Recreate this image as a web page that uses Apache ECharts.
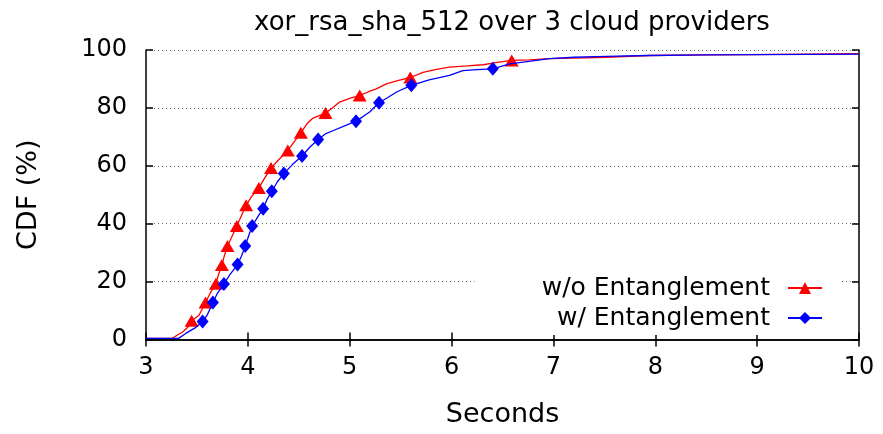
<!DOCTYPE html>
<html>
<head>
<meta charset="utf-8">
<script src="https://cdn.jsdelivr.net/npm/echarts@6/dist/echarts.min.js"></script>
<style>html,body{margin:0;padding:0;background:#fff;}#c{width:883px;height:434px;}</style>
</head>
<body>
<div id="c"></div>
<script>
const titleText = 'xor_rsa_sha_512 over 3 cloud providers';
const seriesNames = ['w/o Entanglement', 'w/ Entanglement'];
const xTicks = [3, 4, 5, 6, 7, 8, 9, 10];
const yTicks = [0, 20, 40, 60, 80, 100];

const redLine = [[3.00,0.4],[3.26,0.4],[3.30,1.4],[3.36,2.6],[3.41,4.2],[3.448,6.5],[3.52,8.4],[3.585,12.8],[3.63,16],[3.686,19.4],[3.71,22.2],[3.745,25.7],[3.77,29],[3.80,32.3],[3.85,36],[3.892,39.2],[3.94,43],[3.983,46.4],[4.04,49.5],[4.108,52.3],[4.16,55.5],[4.228,59.2],[4.30,62],[4.392,65.3],[4.46,68.5],[4.52,71.4],[4.58,74.5],[4.64,76.5],[4.762,78.2],[4.83,80],[4.90,82],[5.00,83.3],[5.098,84.3],[5.18,85.5],[5.26,86.6],[5.36,88.3],[5.48,89.5],[5.595,90.5],[5.72,92.3],[5.85,93.3],[5.98,94.1],[6.15,94.5],[6.31,94.9],[6.45,95.7],[6.59,96.4],[6.76,96.6],[6.96,97.0],[7.2,97.2],[7.52,97.5],[7.94,98.1],[8.5,98.3],[8.92,98.4],[9.5,98.6],[10,98.7]];
const blueLine = [[3.00,0.4],[3.32,0.4],[3.39,2.1],[3.49,4.2],[3.556,6.2],[3.60,8.4],[3.657,12.8],[3.70,15.9],[3.765,19.2],[3.82,22.2],[3.899,25.9],[3.94,29],[3.974,32.3],[4.01,36],[4.042,39.2],[4.10,42.5],[4.15,45.2],[4.19,48.5],[4.235,51.2],[4.29,54.5],[4.353,57.3],[4.44,60.5],[4.532,63.4],[4.61,66.5],[4.69,69.1],[4.76,71],[4.84,72.2],[4.95,73.8],[5.062,75.4],[5.13,77],[5.196,78.6],[5.288,81.8],[5.37,83.5],[5.46,85.5],[5.605,87.8],[5.70,88.8],[5.78,89.7],[5.98,91.2],[6.11,92.9],[6.25,93.2],[6.405,93.5],[6.57,95.2],[6.76,96.1],[6.96,97.0],[7.2,97.5],[7.52,97.8],[7.94,98.1],[8.5,98.3],[9,98.4],[10,98.6]];
const redMarks = [[3.448,6.5],[3.585,12.8],[3.686,19.3],[3.745,25.7],[3.80,32.3],[3.892,39.2],[3.983,46.4],[4.108,52.3],[4.228,59.2],[4.392,65.3],[4.52,71.4],[4.762,78.2],[5.098,84.3],[5.595,90.5],[6.59,96.4]];
const blueMarks = [[3.556,6.2],[3.657,12.8],[3.765,19.2],[3.899,25.9],[3.974,32.3],[4.042,39.2],[4.15,45.2],[4.235,51.2],[4.353,57.3],[4.532,63.4],[4.69,69.1],[5.062,75.4],[5.288,81.8],[5.605,87.8],[6.405,93.5]];

const FONT = 'DejaVu Sans, Liberation Sans, Arial, sans-serif';
const RED = '#ff0000', BLUE = '#0000ff';
const axisLineStyle = { color: '#000', width: 1.5 };

const chart = echarts.init(document.getElementById('c'), null, { renderer: 'canvas' });
chart.setOption({
  animation: false,
  backgroundColor: '#fff',
  title: {
    text: titleText, left: 507, top: 5, textAlign: 'center',
    textStyle: { fontFamily: FONT, fontSize: 26, fontWeight: 'normal', color: '#000' }
  },
  legend: {
    data: seriesNames, orient: 'vertical', right: 43, top: 271, align: 'right',
    itemWidth: 34, itemHeight: 15, itemGap: 4, selectedMode: false,
    backgroundColor: '#fff', padding: [4, 17, 4, 67],
    textStyle: { fontFamily: FONT, fontSize: 25, color: '#000', lineHeight: 26, padding: [0, 13, 0, 0] }
  },
  grid: { left: 146, right: 24, top: 50, bottom: 94.5, containLabel: false },
  xAxis: [{
    type: 'value', min: xTicks[0], max: xTicks[xTicks.length - 1], interval: 1,
    name: 'Seconds', nameLocation: 'middle', nameGap: 62,
    nameTextStyle: { fontFamily: FONT, fontSize: 27, color: '#000' },
    axisLine: { show: true, lineStyle: axisLineStyle },
    axisTick: { show: true, inside: true, length: 7, lineStyle: axisLineStyle },
    axisLabel: { fontFamily: FONT, fontSize: 24, color: '#000', margin: 16 },
    splitLine: { show: false }
  }, {
    type: 'value', position: 'top', min: xTicks[0], max: xTicks[xTicks.length - 1], interval: 1,
    axisLine: { show: true, lineStyle: axisLineStyle },
    axisTick: { show: true, inside: true, length: 7, lineStyle: axisLineStyle },
    axisLabel: { show: false }, splitLine: { show: false }
  }],
  yAxis: [{
    type: 'value', min: yTicks[0], max: yTicks[yTicks.length - 1], interval: 20,
    name: 'CDF (%)', nameLocation: 'middle', nameGap: 104, nameRotate: 90,
    nameTextStyle: { fontFamily: FONT, fontSize: 27, color: '#000' },
    axisLine: { show: true, lineStyle: axisLineStyle },
    axisTick: { show: true, inside: true, length: 7, lineStyle: axisLineStyle },
    axisLabel: { fontFamily: FONT, fontSize: 24, color: '#000', margin: 19 },
    splitLine: {
      show: true,
      lineStyle: { color: '#666', width: 1, type: [1, 3] }
    }
  }, {
    type: 'value', position: 'right', min: yTicks[0], max: yTicks[yTicks.length - 1], interval: 20,
    axisLine: { show: true, lineStyle: axisLineStyle },
    axisTick: { show: true, inside: true, length: 7, lineStyle: axisLineStyle },
    axisLabel: { show: false }, splitLine: { show: false }
  }],
  series: [
    {
      name: seriesNames[0], type: 'line', data: redLine, symbol: 'triangle', showSymbol: false,
      color: RED, lineStyle: { color: RED, width: 1.3 }, itemStyle: { color: RED }, z: 3
    },
    {
      name: 'redMarks', type: 'scatter', data: redMarks, symbol: 'triangle', symbolSize: [14, 12],
      itemStyle: { color: RED, opacity: 1 }, z: 4
    },
    {
      name: seriesNames[1], type: 'line', data: blueLine, symbol: 'diamond', showSymbol: false,
      color: BLUE, lineStyle: { color: BLUE, width: 1.3 }, itemStyle: { color: BLUE }, z: 5
    },
    {
      name: 'blueMarks', type: 'scatter', data: blueMarks, symbol: 'diamond', symbolSize: [12, 14],
      itemStyle: { color: BLUE, opacity: 1 }, z: 6
    }
  ]
});
</script>
</body>
</html>
